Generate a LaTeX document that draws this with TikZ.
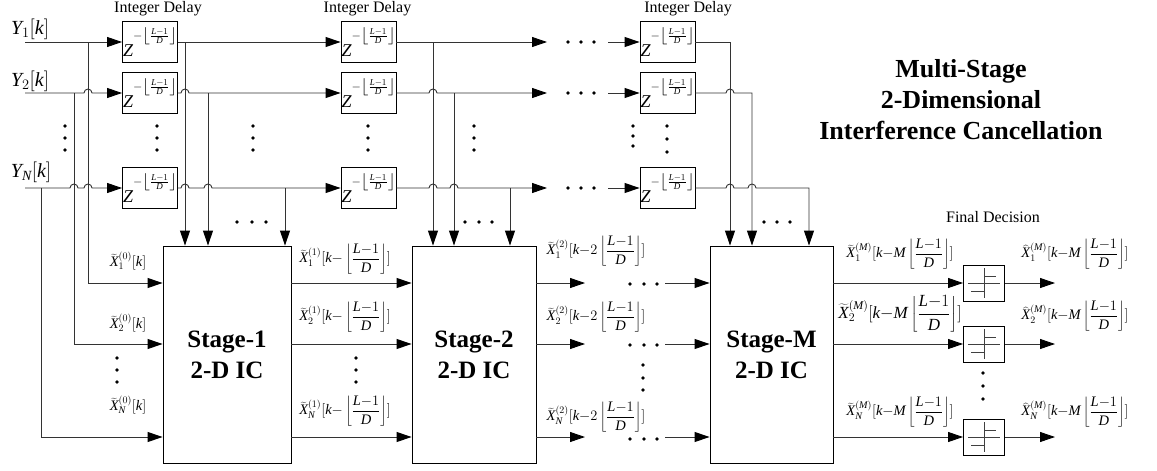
\documentclass[tikz,border=0pt]{standalone}
\usepackage{fontspec}
\setmainfont{Liberation Serif}
\usetikzlibrary{arrows.meta,calc}
\tikzset{
  ln/.style={line width=0.9pt, draw=black!80},
  arr/.style={ln, -{Triangle[length=15pt,width=10pt,color=black]}},
  dbox/.style={draw=black, line width=0.9pt, minimum width=55pt, minimum height=41pt, inner sep=0pt, font=\fontsize{18}{20}\selectfont},
  sbox/.style={draw=black, line width=0.9pt, minimum height=217pt, inner sep=0pt, align=center, font=\fontsize{25}{31}\selectfont\bfseries},
  decbox/.style={draw=black, line width=0.9pt, minimum width=41pt, minimum height=36pt, inner sep=0pt},
  lbl/.style={inner sep=0pt, font=\fontsize{14.5}{16}\selectfont},
  ylbl/.style={inner sep=0pt, font=\fontsize{20}{22}\selectfont},
  captxt/.style={inner sep=0pt, font=\fontsize{16}{18}\selectfont},
  ttl/.style={inner sep=0pt, align=center, font=\fontsize{26}{31}\selectfont\bfseries},
  symln/.style={line width=0.9pt, draw=black!75},
}
\newcommand{\mi}[1]{\mathit{#1}}
\newcommand{\XT}{\widetilde{\mi{X}}}
\newcommand{\XH}{\widehat{\mi{X}}}
\newcommand{\myfl}{\left\lfloor\frac{\mi{L}{-}1}{\mi{D}}\right\rfloor}
\newcommand{\mydz}{$\mi{Z}\raisebox{17pt}{$\scriptstyle {-}\left\lfloor\frac{\mi{L}{-}1}{\mi{D}}\right\rfloor$}$}
\newcommand{\hp}{arc[start angle=180,end angle=360,radius=4]}
\begin{document}
\begin{tikzpicture}[x=1pt,y=-1pt]
\useasboundingbox (0,0) rectangle (1157,471);
% ---------- inputs
\coordinate (y1) at (25,42);
\coordinate (y2) at (25,93);
\coordinate (yN) at (25,188);
\node[ylbl] (ly1) at (30,29) {$\mi{Y}_1[\mi{k}]$};
\node[ylbl] (ly2) at (30,81) {$\mi{Y}_2[\mi{k}]$};
\node[ylbl] (lyN) at (31,172) {$\mi{Y}_{\mi{N}}[\mi{k}]$};
% ---------- captions
\node[captxt] (id1) at (158,9) {Integer Delay};
\node[captxt] (id2) at (367.5,9) {Integer Delay};
\node[captxt] (id3) at (688,9) {Integer Delay};
\node[ttl] (title) at (961,100) {Multi-Stage\\2-Dimensional\\Interference Cancellation};
\node[captxt] (fd) at (993,217) {Final Decision};
% ---------- delay boxes
\node[dbox] (d1a) at (150,42) {\mydz};
\node[dbox] (d1b) at (150,93) {\mydz};
\node[dbox] (d1n) at (150,188) {\mydz};
\node[dbox] (d2a) at (368.5,42) {\mydz};
\node[dbox] (d2b) at (368.5,93) {\mydz};
\node[dbox] (d2n) at (368.5,188) {\mydz};
\node[dbox] (d3a) at (667.5,42) {\mydz};
\node[dbox] (d3b) at (667.5,93) {\mydz};
\node[dbox] (d3n) at (667.5,188) {\mydz};
% ---------- stage boxes
\node[sbox, minimum width=128pt] (s1) at (227,354.5) {Stage-1\\2-D IC};
\node[sbox, minimum width=124pt] (s2) at (474,354.5) {Stage-2\\2-D IC};
\node[sbox, minimum width=123pt] (sM) at (771.5,354.5) {Stage-M\\2-D IC};
% ---------- decision boxes
\node[decbox] (f1) at (984,283) {};
\node[decbox] (f2) at (984,344) {};
\node[decbox] (fN) at (984,437) {};
% ---------- row coordinates
\coordinate (r1) at (0,283);
\coordinate (r2) at (0,344);
\coordinate (rN) at (0,437);
% ---------- input rows
\draw[arr] (y1) -- (d1a.west);
\draw[arr] (y2) -- (84,93) \hp -- (d1b.west);
\draw[arr] (yN) -- (70,188) \hp -- (84,188) \hp -- (d1n.west);
\coordinate (ta1) at (88,42);
\coordinate (ta2) at (74,93);
\coordinate (taN) at (41,188);
\draw[arr] (ta1) |- (s1.west |- r1);
\draw[arr] (ta2) |- (s1.west |- r2);
\draw[arr] (taN) |- (s1.west |- rN);
% ---------- column 1 outputs
\draw[arr] (d1a.east) -- (d2a.west);
\draw[arr] (d1b.east) -- (181,93) \hp -- (d2b.west);
\draw[arr] (d1n.east) -- (181,188) \hp -- (204,188) \hp -- (d2n.west);
\coordinate (tb1) at (185,42);
\coordinate (tb2) at (208,93);
\coordinate (tbN) at (285,188);
\draw[arr] (tb1) -- (tb1 |- s1.north);
\draw[arr] (tb2) -- (tb2 |- s1.north);
\draw[arr] (tbN) -- (tbN |- s1.north);
% ---------- column 2 outputs
\coordinate (e1) at (547,42);
\coordinate (e2) at (547,93);
\coordinate (eN) at (547,188);
\draw[arr] (d2a.east) -- (e1);
\draw[arr] (d2b.east) -- (429,93) \hp -- (e2);
\draw[arr] (d2n.east) -- (429,188) \hp -- (450,188) \hp -- (eN);
\coordinate (tc1) at (433,42);
\coordinate (tc2) at (454,93);
\coordinate (tcN) at (510,188);
\draw[arr] (tc1) -- (tc1 |- s2.north);
\draw[arr] (tc2) -- (tc2 |- s2.north);
\draw[arr] (tcN) -- (tcN |- s2.north);
% ---------- column 3 inputs / outputs
\coordinate (g1) at (608,42);
\coordinate (g2) at (608,93);
\coordinate (gN) at (608,188);
\draw[arr] (g1) -- (d3a.west);
\draw[arr] (g2) -- (d3b.west);
\draw[arr] (gN) -- (d3n.west);
\coordinate (td1) at (730,42);
\coordinate (td2) at (752,93);
\coordinate (tdN) at (809,188);
\draw[arr] (d3a.east) -- (td1) -- (td1 |- sM.north);
\draw[arr] (d3b.east) -- (726,93) \hp -- (td2) -- (td2 |- sM.north);
\draw[arr] (d3n.east) -- (726,188) \hp -- (748,188) \hp -- (tdN) -- (tdN |- sM.north);
% ---------- stage chain
\draw[arr] (s1.east |- r1) -- (s2.west |- r1);
\draw[arr] (s1.east |- r2) -- (s2.west |- r2);
\draw[arr] (s1.east |- rN) -- (s2.west |- rN);
\coordinate (h1) at (585,283);
\coordinate (h2) at (585,344);
\coordinate (hN) at (585,437);
\draw[arr] (s2.east |- r1) -- (h1);
\draw[arr] (s2.east |- r2) -- (h2);
\draw[arr] (s2.east |- rN) -- (hN);
\coordinate (k1) at (665,283);
\coordinate (k2) at (665,344);
\coordinate (kN) at (665,437);
\draw[arr] (k1) -- (sM.west |- r1);
\draw[arr] (k2) -- (sM.west |- r2);
\draw[arr] (kN) -- (sM.west |- rN);
\draw[arr] (sM.east |- r1) -- (f1.west);
\draw[arr] (sM.east |- r2) -- (f2.west);
\draw[arr] (sM.east |- rN) -- (fN.west);
\coordinate (o1) at (1055,283);
\coordinate (o2) at (1055,344);
\coordinate (oN) at (1055,437);
\draw[arr] (f1.east) -- (o1);
\draw[arr] (f2.east) -- (o2);
\draw[arr] (fN.east) -- (oN);
% ---------- decision symbols
\foreach \n in {f1,f2,fN}{
  \draw[symln] ($(\n.center)+(-16,0)$) -- ($(\n.center)+(16,0)$);
  \draw[symln] ($(\n.center)+(0,-15)$) -- ($(\n.center)+(0,15)$);
  \draw[symln] ($(\n.center)+(0,-7)$) -- ($(\n.center)+(12,-7)$);
  \draw[symln] ($(\n.center)+(-13,8)$) -- ($(\n.center)+(0,8)$);
}
% ---------- dots
\foreach \x in {65,157,253,368,474}{
  \foreach \y in {126,138,150} \fill (\x,\y) circle[radius=1.8];
}
\foreach \y in {126,136,146} \fill (633,\y) circle[radius=1.8];
\foreach \y in {126,139,152} \fill (667,\y) circle[radius=1.8];
\foreach \y in {358,370,382} {\fill (117,\y) circle[radius=1.8]; \fill (356,\y) circle[radius=1.8];}
\foreach \y in {365,378,390} \fill (643,\y) circle[radius=1.8];
\foreach \y in {373,386,399} \fill (983,\y) circle[radius=1.8];
\foreach \x in {237,252,266} \fill (\x,222) circle[radius=1.8];
\foreach \x in {465,479,492} \fill (\x,222) circle[radius=1.8];
\foreach \x in {764,777,790} \fill (\x,222) circle[radius=1.8];
\foreach \x in {568,581,594}{
  \foreach \y in {42,93,188} \fill (\x,\y) circle[radius=1.8];
}
\foreach \x in {630,644,657}{
  \foreach \y in {284,345,439} \fill (\x,\y) circle[radius=1.8];
}
% ---------- signal labels
\node[lbl] (x01) at (128,261) {$\XT_1^{(0)}[\mi{k}]$};
\node[lbl] (x02) at (128,323) {$\XT_2^{(0)}[\mi{k}]$};
\node[lbl] (x0N) at (128,405) {$\XT_{\mi{N}}^{(0)}[\mi{k}]$};
\node[lbl] (x11) at (345,259) {$\displaystyle\XT_1^{(1)}[\mi{k}{-}\myfl]$};
\node[lbl] (x12) at (345,317) {$\displaystyle\XT_2^{(1)}[\mi{k}{-}\myfl]$};
\node[lbl] (x1N) at (345,411) {$\displaystyle\XT_{\mi{N}}^{(1)}[\mi{k}{-}\myfl]$};
\node[lbl] (x21) at (596,251) {$\displaystyle\XT_1^{(2)}[\mi{k}{-}2\myfl]$};
\node[lbl] (x22) at (596,317) {$\displaystyle\XT_2^{(2)}[\mi{k}{-}2\myfl]$};
\node[lbl] (x2N) at (596,417) {$\displaystyle\XT_{\mi{N}}^{(2)}[\mi{k}{-}2\myfl]$};
\node[lbl] (xM1) at (900,254) {$\displaystyle\XT_1^{(\mi{M})}[\mi{k}{-}\mi{M}\myfl]$};
\node[lbl, font=\fontsize{17}{19}\selectfont] (xM2) at (900,314) {$\displaystyle\XT_2^{(\mi{M})}[\mi{k}{-}\mi{M}\myfl]$};
\node[lbl] (xMN) at (900,412) {$\displaystyle\XT_{\mi{N}}^{(\mi{M})}[\mi{k}{-}\mi{M}\myfl]$};
\node[lbl] (h1l) at (1075,254) {$\displaystyle\XH_1^{(\mi{M})}[\mi{k}{-}\mi{M}\myfl]$};
\node[lbl] (h2l) at (1075,316) {$\displaystyle\XH_2^{(\mi{M})}[\mi{k}{-}\mi{M}\myfl]$};
\node[lbl] (hNl) at (1075,412) {$\displaystyle\XH_{\mi{N}}^{(\mi{M})}[\mi{k}{-}\mi{M}\myfl]$};
\end{tikzpicture}
\end{document}
